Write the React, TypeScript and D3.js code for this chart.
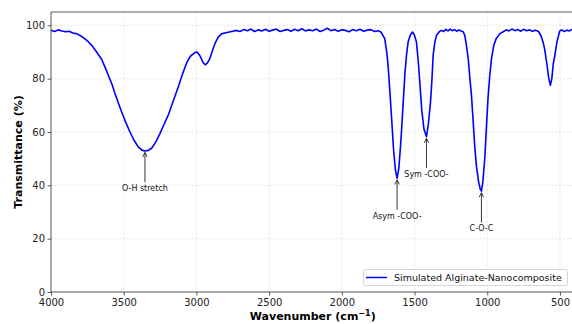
import React, { useEffect, useRef } from 'react';
import * as d3 from 'd3';

// Spectrum (wavenumber in cm-1, transmittance in %)
const wavenumbers = [
  4000, 3975, 3950, 3925, 3900, 3875, 3850, 3825, 3800, 3780,
  3750, 3720, 3690, 3652, 3630, 3606, 3580, 3560, 3535, 3514,
  3485, 3457, 3430, 3400, 3375, 3354, 3330, 3308, 3280, 3251,
  3220, 3194, 3160, 3125, 3095, 3067, 3040, 3010, 2995, 2976,
  2955, 2940, 2925, 2907, 2890, 2873, 2850, 2827, 2790, 2750,
  2725, 2700, 2675, 2650, 2625, 2600, 2575, 2550, 2525, 2500,
  2475, 2450, 2425, 2400, 2375, 2350, 2325, 2300, 2275, 2250,
  2225, 2200, 2175, 2150, 2125, 2100, 2075, 2050, 2025, 2000,
  1975, 1950, 1925, 1900, 1875, 1850, 1825, 1800, 1775, 1750,
  1730, 1705, 1690, 1682, 1670, 1659, 1645, 1632, 1620, 1608,
  1598, 1590, 1578, 1567, 1555, 1544, 1528, 1514, 1500, 1487,
  1475, 1464, 1450, 1435, 1418, 1405, 1390, 1380, 1372, 1360,
  1349, 1330, 1315, 1300, 1285, 1270, 1255, 1240, 1225, 1210,
  1195, 1180, 1166, 1155, 1143, 1130, 1120, 1109, 1098, 1086,
  1074, 1060, 1048, 1040, 1030, 1017, 1005, 995, 983, 971,
  955, 937, 910, 890, 870, 850, 830, 810, 790, 770,
  750, 730, 710, 690, 670, 655, 645, 630, 615, 605,
  590, 578, 566, 556, 546, 536, 520, 502, 490, 470,
  450, 435, 420, 400,
];
const transmittance = [
  98.2, 97.7, 98.3, 97.9, 97.6, 97.8, 97.1, 96.9, 96.2, 95.5,
  94.2, 92.5, 90.3, 87.3, 84.5, 81.3, 77.8, 74.4, 70.6, 67.5,
  63.5, 60.0, 57.0, 54.4, 53.2, 52.9, 53.1, 53.9, 56.2, 59.4,
  63.2, 66.3, 71.5, 76.9, 81.8, 86.0, 88.5, 89.8, 90.0, 88.6,
  86.2, 85.2, 85.8, 87.6, 90.5, 93.1, 95.6, 96.8, 97.3, 97.8,
  98.1, 97.7, 98.4, 98.0, 98.6, 97.7, 98.3, 97.9, 98.5, 97.8,
  98.2, 98.6, 97.7, 98.1, 98.4, 97.8, 98.5, 98.0, 98.7, 97.9,
  98.3, 98.0, 98.6, 97.7, 98.2, 98.9, 98.0, 98.4, 97.8, 98.3,
  98.1, 97.6, 98.4, 98.0, 98.5, 97.8, 98.2, 98.4, 97.7, 98.0,
  97.4, 95.0, 89.5, 85.0, 75.5, 66.3, 54.0, 46.0, 42.6, 46.5,
  53.5, 60.0, 71.0, 81.3, 89.0, 93.8, 96.5, 97.5, 96.2, 93.8,
  87.0, 78.8, 68.0, 61.0, 58.2, 63.0, 71.3, 80.0, 88.8, 93.8,
  96.3, 97.6, 98.1, 97.7, 98.5, 97.9, 98.6, 98.0, 98.4, 97.8,
  98.3, 97.9, 97.6, 96.3, 92.5, 87.0, 80.5, 74.0, 65.0, 54.5,
  47.0, 41.5, 38.5, 37.8, 41.5, 50.1, 62.5, 72.5, 81.0, 87.5,
  92.5, 95.2, 97.0, 97.6, 98.3, 97.9, 98.6, 98.0, 98.4, 97.8,
  98.5, 98.0, 98.3, 97.8, 98.2, 97.9, 97.5, 96.0, 93.5, 91.0,
  85.5, 80.5, 77.5, 80.0, 85.5, 88.5, 94.0, 97.8, 98.3, 97.7,
  98.2, 97.9, 98.4, 98.0,
];

// Annotated bands
const bandLabels = ['O-H stretch', 'Asym -COO-', 'Sym -COO-', 'C-O-C'];
const bandWavenumbers = [3354, 1620, 1418, 1040];
const bandMinima = [52.9, 42.6, 58.2, 37.8];

const xTicks = [4000, 3500, 3000, 2500, 2000, 1500, 1000, 500];
const yTicks = [0, 20, 40, 60, 80, 100];
const seriesName = 'Simulated Alginate-Nanocomposite';

const App = () => {
  const ref = useRef<SVGSVGElement>(null);

  useEffect(() => {
    const width = 572;
    const height = 324;
    const left = 51;
    const right = 574.5; // right spine falls just outside the crop
    const top = 12;
    const bottom = 292;

    const svg = d3.select(ref.current);
    svg.selectAll('*').remove();

    const x = d3.scaleLinear().domain([4000, 400]).range([left, right]);
    const y = d3.scaleLinear().domain([0, 105]).range([bottom, top]);

    svg.append('rect').attr('width', width).attr('height', height).attr('fill', '#fff');

    // grid
    const grid = svg.append('g').attr('stroke', '#b0b0b0').attr('stroke-opacity', 0.35)
      .attr('stroke-width', 0.8).attr('stroke-dasharray', '2.5,1.5');
    xTicks.forEach((t) => {
      grid.append('line').attr('x1', x(t)).attr('x2', x(t)).attr('y1', top).attr('y2', bottom);
    });
    yTicks.forEach((t) => {
      grid.append('line').attr('x1', left).attr('x2', width).attr('y1', y(t)).attr('y2', y(t));
    });

    // spectrum
    const pts: [number, number][] = wavenumbers.map((w, i) => [w, transmittance[i]]);
    const line = d3.line<[number, number]>().x((d) => x(d[0])).y((d) => y(d[1]));
    svg.append('path').datum(pts).attr('d', line).attr('fill', 'none')
      .attr('stroke', '#0000ff').attr('stroke-width', 1.6).attr('stroke-linejoin', 'round');

    // axes
    const font = 'DejaVu Sans, sans-serif';
    const xAxis = svg.append('g').attr('transform', `translate(0,${bottom})`)
      .call(d3.axisBottom(x).tickValues(xTicks).tickSize(3.5).tickPadding(3).tickFormat(d3.format('d')));
    const yAxis = svg.append('g').attr('transform', `translate(${left},0)`)
      .call(d3.axisLeft(y).tickValues(yTicks).tickSize(3.5).tickPadding(2.5).tickFormat(d3.format('d')));
    [xAxis, yAxis].forEach((g) => {
      g.select('.domain').remove();
      g.selectAll('line').attr('stroke', '#333').attr('stroke-width', 0.8);
      g.selectAll('text').attr('font-family', font).attr('font-size', 10).attr('fill', '#222');
    });

    // spines
    svg.append('path')
      .attr('d', `M${left},${top}H${width}M${left},${top}V${bottom}H${width}`)
      .attr('fill', 'none').attr('stroke', '#333').attr('stroke-width', 0.8);

    // annotations
    bandLabels.forEach((label, i) => {
      const bx = x(bandWavenumbers[i]);
      const tipY = y(bandMinima[i]) + 1.5;
      const textY = y(bandMinima[i] - 14);
      svg.append('line').attr('x1', bx).attr('x2', bx).attr('y1', textY - 6).attr('y2', tipY)
        .attr('stroke', '#222').attr('stroke-width', 0.9);
      svg.append('path')
        .attr('d', `M${bx - 2.2},${tipY + 4.5}L${bx},${tipY}L${bx + 2.2},${tipY + 4.5}`)
        .attr('fill', 'none').attr('stroke', '#222').attr('stroke-width', 0.9);
      svg.append('text').attr('x', bx).attr('y', textY).attr('dy', '0.35em')
        .attr('text-anchor', 'middle').attr('font-family', font).attr('font-size', 8)
        .attr('fill', '#111').text(label);
    });

    // axis labels
    const xl = svg.append('text').attr('x', (left + right) / 2).attr('y', 320)
      .attr('text-anchor', 'middle').attr('font-family', font).attr('font-size', 11)
      .attr('font-weight', 'bold');
    xl.append('tspan').text('Wavenumber (cm');
    xl.append('tspan').attr('font-size', 8).attr('dy', -4.5).text('−1');
    xl.append('tspan').attr('dy', 4.5).text(')');
    svg.append('text').attr('transform', `translate(22,${(top + bottom) / 2}) rotate(-90)`)
      .attr('text-anchor', 'middle').attr('font-family', font).attr('font-size', 11)
      .attr('font-weight', 'bold').text('Transmittance (%)');

    // legend
    const lg = svg.append('g');
    lg.append('rect').attr('x', 363.5).attr('y', 269.5).attr('width', 204).attr('height', 16)
      .attr('rx', 2).attr('fill', '#fff').attr('fill-opacity', 0.8)
      .attr('stroke', '#ccc').attr('stroke-width', 0.8);
    lg.append('line').attr('x1', 366).attr('x2', 387).attr('y1', 277.5).attr('y2', 277.5)
      .attr('stroke', '#0000ff').attr('stroke-width', 1.5);
    lg.append('text').attr('x', 394).attr('y', 277.5).attr('dy', '0.35em')
      .attr('font-family', font).attr('font-size', 9.5).attr('fill', '#111').text(seriesName);
  }, []);

  return (
    <svg ref={ref} width={572} height={324}
      style={{ position: 'absolute', left: 0, top: 0, display: 'block' }} />
  );
};

export default App;
